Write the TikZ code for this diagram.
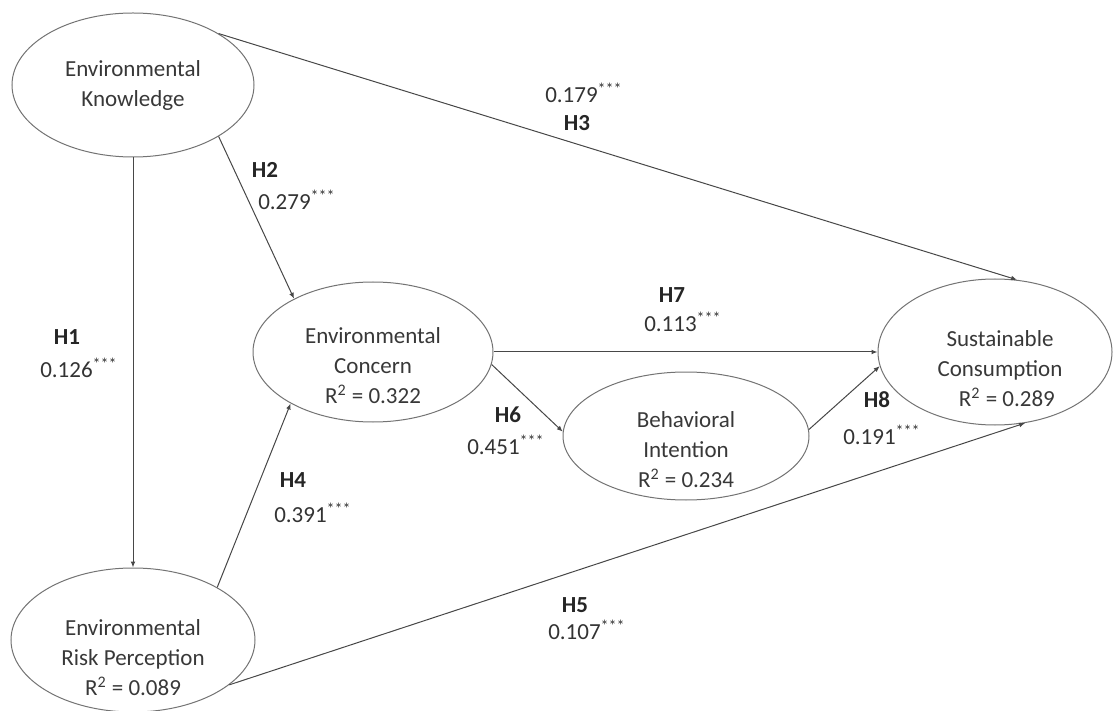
\documentclass[tikz,border=0pt]{standalone}
\usepackage{fontspec}
\setmainfont{Carlito}
\usetikzlibrary{arrows.meta,shapes.geometric}

\tikzset{
	latent/.style={draw=black!55, line width=0.5pt, ellipse, inner sep=0pt},
	link/.style={draw=black!72, line width=0.5pt, -{Latex[length=3pt,width=2.4pt]}},
	hyp/.style={font=\fontsize{11.5}{15}\selectfont\bfseries, text=black!85},
	est/.style={text=black!80}
}

\begin{document}
\begin{tikzpicture}[x=0.5pt,y=-0.5pt,font=\fontsize{11.5}{15}\selectfont,text=black!78]
			\useasboundingbox (0,0) rectangle (1114,711);
			\node[latent, minimum width=121pt, minimum height=72pt, align=center] (ek) at (133,85) {Environmental\\Knowledge};
			\node[latent, minimum width=122pt, minimum height=72pt] (erp) at (133,640) {};
			\node[latent, minimum width=120pt, minimum height=70pt] (ec) at (373,352) {};
			\node[latent, minimum width=123pt, minimum height=64pt] (bi) at (686,436) {};
			\node[latent, minimum width=117pt, minimum height=73pt] (sc) at (995,352) {};
			\node[align=center] (erp-txt) at (133,658) {Environmental\\Risk Perception\\R\textsuperscript{2} = 0.089};
			\node[align=center] (ec-txt) at (373,366) {Environmental\\Concern\\R\textsuperscript{2} = 0.322};
			\node[align=center] (bi-txt) at (686,450) {Behavioral\\Intention\\R\textsuperscript{2} = 0.234};
			\node[align=center] (sc-txt) at (1000,369) {Sustainable\\Consumption\\\hspace*{0.6em}R\textsuperscript{2} = 0.289};
			\draw[link] (ek.south) -- (erp.north);
			\draw[link] (ek.-31) -- (ec.146);
			\draw[link] (ek.31) -- (sc.73);
			\draw[link] (erp.32) -- (ec.212);
			\draw[link] (erp.-25) -- (sc.-67);
			\draw[link] (ec.-6) -- (bi.178);
			\draw[link] (ec.east) -- (sc.west);
			\draw[link] (bi.3) -- (sc.187);
			\node[hyp] (h1) at (67,337) {H1};
			\node[est] (b1) at (79,368) {0.126\textsuperscript{***}};
			\node[hyp] (h2) at (265,170) {H2};
			\node[est] (b2) at (297,200) {0.279\textsuperscript{***}};
			\node[est] (b3) at (584,93) {0.179\textsuperscript{***}};
			\node[hyp] (h3) at (577,123) {H3};
			\node[hyp] (h4) at (293,480) {H4};
			\node[est] (b4) at (313,513) {0.391\textsuperscript{***}};
			\node[hyp] (h5) at (575,605) {H5};
			\node[est] (b5) at (587,630) {0.107\textsuperscript{***}};
			\node[hyp] (h6) at (508,415) {H6};
			\node[est] (b6) at (506,445) {0.451\textsuperscript{***}};
			\node[hyp] (h7) at (672,295) {H7};
			\node[est] (b7) at (683,322) {0.113\textsuperscript{***}};
			\node[hyp] (h8) at (877,400) {H8};
			\node[est] (b8) at (882,435) {0.191\textsuperscript{***}};
		\end{tikzpicture}
\end{document}
